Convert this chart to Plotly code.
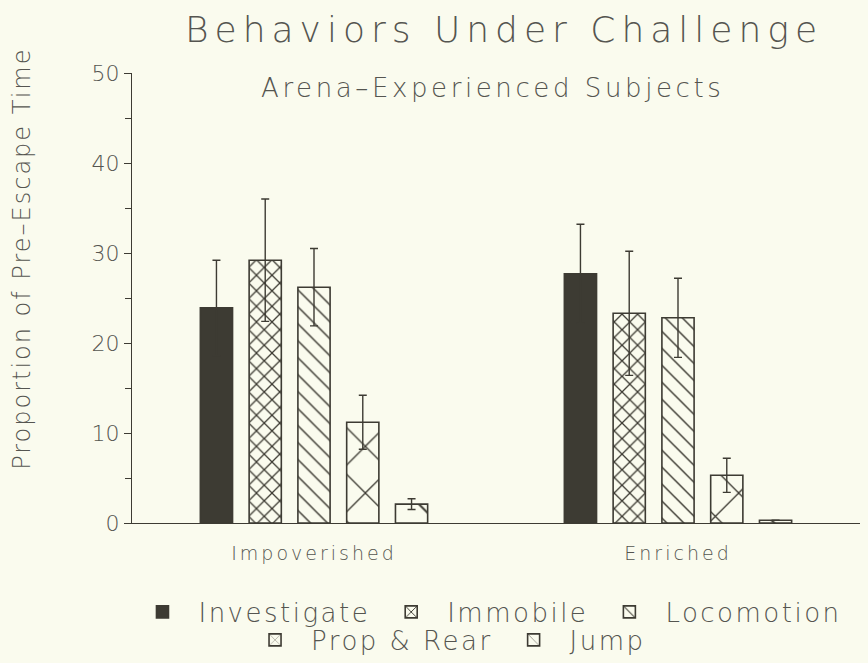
import plotly.graph_objects as go

groups = ["Impoverished", "Enriched"]
behaviors = ["Investigate", "Immobile", "Locomotion", "Prop & Rear", "Jump"]
investigate = [23.9, 27.7]
investigate_err = [5.3, 5.5]
immobile = [29.2, 23.3]
immobile_err = [6.8, 6.9]
locomotion = [26.2, 22.8]
locomotion_err = [4.3, 4.4]
prop_rear = [11.2, 5.3]
prop_rear_err = [3.0, 1.9]
jump = [2.1, 0.3]
jump_err = [0.6, 0.0]

values = [investigate, immobile, locomotion, prop_rear, jump]
errors = [investigate_err, immobile_err, locomotion_err, prop_rear_err, jump_err]

BG = "#fafbee"
INK = "#3d3b33"
TXT = "#555550"
FONT = "DejaVu Sans"
W = 200


def spaced(text, px):
    return f'<span style="letter-spacing:{px}px">{text}</span>'


patterns = [
    dict(shape="", fillmode="replace"),
    dict(shape="x", size=11, solidity=0.22, fgcolor=INK, bgcolor=BG, fillmode="replace"),
    dict(shape="\\", size=12, solidity=0.12, fgcolor=INK, bgcolor=BG, fillmode="replace"),
    dict(shape="x", size=33, solidity=0.08, fgcolor=INK, bgcolor=BG, fillmode="replace"),
    dict(shape="\\", size=34, solidity=0.06, fgcolor=INK, bgcolor=BG, fillmode="replace"),
]

fig = go.Figure()
for i, (name, vals, errs, pat) in enumerate(zip(behaviors, values, errors, patterns)):
    fig.add_trace(go.Bar(
        x=groups, y=vals, name=spaced(name, 2.5),
        marker=dict(color=INK if i == 0 else BG, pattern=pat,
                    line=dict(color=INK, width=1.6)),
        error_y=dict(type="data", array=errs, visible=True, color=INK,
                     thickness=1.4, width=4),
        legend="legend" if i < 3 else "legend2",
    ))

legfont = dict(size=26, color=TXT, family=FONT, weight=W)
fig.update_layout(
    width=868, height=663,
    paper_bgcolor=BG, plot_bgcolor=BG,
    margin=dict(l=132, r=8, t=73, b=140, autoexpand=False),
    barmode="group", bargap=0.33, bargroupgap=0.34,
    font=dict(family=FONT, color=TXT, size=18, weight=W),
    showlegend=True,
    legend=dict(orientation="h", x=0.4876, xanchor="center",
                yref="container", y=0.0769, yanchor="middle",
                font=legfont, bgcolor="rgba(0,0,0,0)", itemwidth=62,
                traceorder="normal", tracegroupgap=0),
    legend2=dict(orientation="h", x=0.43, xanchor="center",
                 yref="container", y=0.0347, yanchor="middle",
                 font=legfont, bgcolor="rgba(0,0,0,0)", itemwidth=62,
                 traceorder="normal"),
    xaxis=dict(showline=True, linecolor=INK, linewidth=1.2, ticks="",
               tickmode="array", tickvals=groups,
               ticktext=[spaced(g, 3) for g in groups],
               tickfont=dict(size=19, color=TXT, family=FONT, weight=W),
               ticklabelstandoff=13,
               showgrid=False, zeroline=False),
    yaxis=dict(range=[0, 50], dtick=10, showline=True, linecolor=INK, linewidth=1.2,
               ticks="outside", ticklen=7, tickcolor=INK, showgrid=False,
               zeroline=False, tickfont=dict(size=22, color=TXT, family=FONT, weight=W),
               minor=dict(dtick=5, ticks="outside", ticklen=6, tickcolor=INK)),
    annotations=[
        dict(text=spaced("Behaviors Under Challenge", 6), x=0.511, y=1.0956,
             xref="paper", yref="paper", yanchor="middle", showarrow=False,
             font=dict(size=36, color=TXT, family=FONT, weight=W)),
        dict(text=spaced("Arena\u2013Experienced Subjects", 3.6), x=0.495, y=0.9667,
             xref="paper", yref="paper", yanchor="middle", showarrow=False,
             font=dict(size=26, color=TXT, family=FONT, weight=W)),
        dict(text=spaced("Proportion of Pre\u2013Escape Time", 2), x=0, y=0.587,
             xref="paper", yref="paper", xanchor="center", yanchor="middle",
             xshift=-110, textangle=-90, showarrow=False,
             font=dict(size=24, color=TXT, family=FONT, weight=W)),
    ],
)

fig.write_html("out.html", config={"displayModeBar": False},
               post_script="document.body.style.margin='0';"
                           "document.body.style.background='#fafbee';")
